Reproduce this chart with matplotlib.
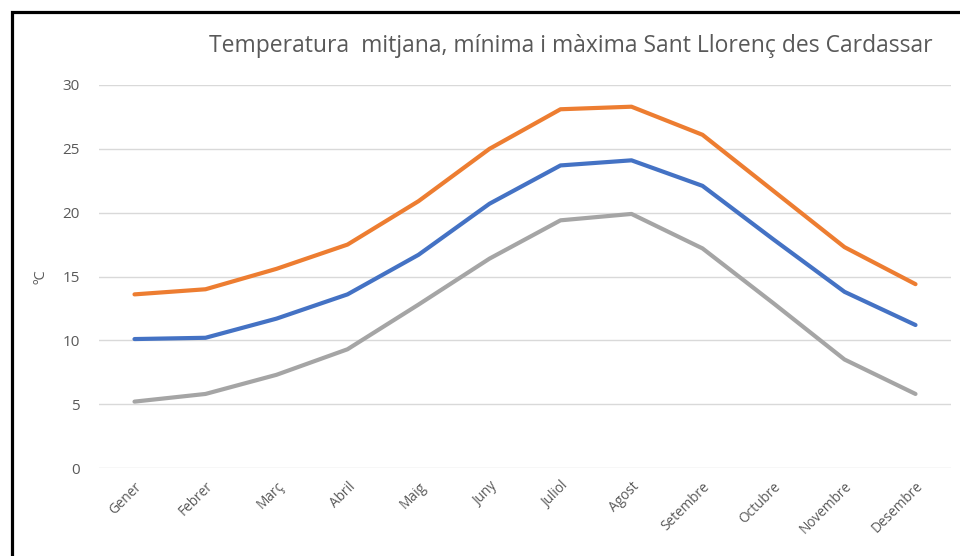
import matplotlib
matplotlib.use("Agg")
import matplotlib.pyplot as plt
from matplotlib.patches import Rectangle

months = ["Gener", "Febrer", "Març", "Abril", "Maig", "Juny", "Juliol",
          "Agost", "Setembre", "Octubre", "Novembre", "Desembre"]
t_max = [13.6, 14.0, 15.6, 17.5, 20.9, 25.0, 28.1, 28.3, 26.1, 21.7, 17.3, 14.4]
t_mean = [10.1, 10.2, 11.7, 13.6, 16.7, 20.7, 23.7, 24.1, 22.1, 17.9, 13.8, 11.2]
t_min = [5.2, 5.8, 7.3, 9.3, 12.8, 16.4, 19.4, 19.9, 17.2, 12.9, 8.5, 5.8]
yticks = [0, 5, 10, 15, 20, 25, 30]

plt.rcParams['font.family'] = ['Open Sans', 'DejaVu Sans']
TXT = '#595959'

fig = plt.figure(figsize=(9.6, 5.56), dpi=100)
ax = fig.add_axes([99/960, 88/556, 852/960, 383/556])

x = list(range(len(months)))
ax.plot(x, t_min, color='#A5A5A5', lw=3.0, solid_capstyle='round', zorder=3)
ax.plot(x, t_mean, color='#4472C4', lw=3.0, solid_capstyle='round', zorder=4)
ax.plot(x, t_max, color='#ED7D31', lw=3.0, solid_capstyle='round', zorder=5)

ax.set_xlim(-0.5, len(months) - 0.5)
ax.set_ylim(0, 30)
ax.set_yticks(yticks)
ax.set_yticklabels([str(v) for v in yticks], color=TXT, fontsize=11)
ax.set_xticks(x)
ax.set_xticklabels(months, rotation=45, ha='right', rotation_mode='anchor',
                   color=TXT, fontsize=9.8)
ax.tick_params(axis='both', length=0)
ax.tick_params(axis='y', pad=14)
ax.tick_params(axis='x', pad=8)
for s in ax.spines.values():
    s.set_visible(False)
ax.yaxis.grid(True, color='#D9D9D9', lw=1.0)
ax.set_axisbelow(True)
ax.set_ylabel('ºC', color=TXT, fontsize=10.5, labelpad=10)

fig.text(571/960, 1 - 46/556, 'Temperatura  mitjana, mínima i màxima Sant Llorenç des Cardassar',
         ha='center', va='center', color=TXT, fontsize=16.5)

fig.patches.append(Rectangle((11.5/960, -0.1), 1.2, 1 - 11.5/556 + 0.1,
                             transform=fig.transFigure, fill=False,
                             edgecolor='black', lw=2.3, zorder=10))

fig.savefig('out.png', dpi=100)
